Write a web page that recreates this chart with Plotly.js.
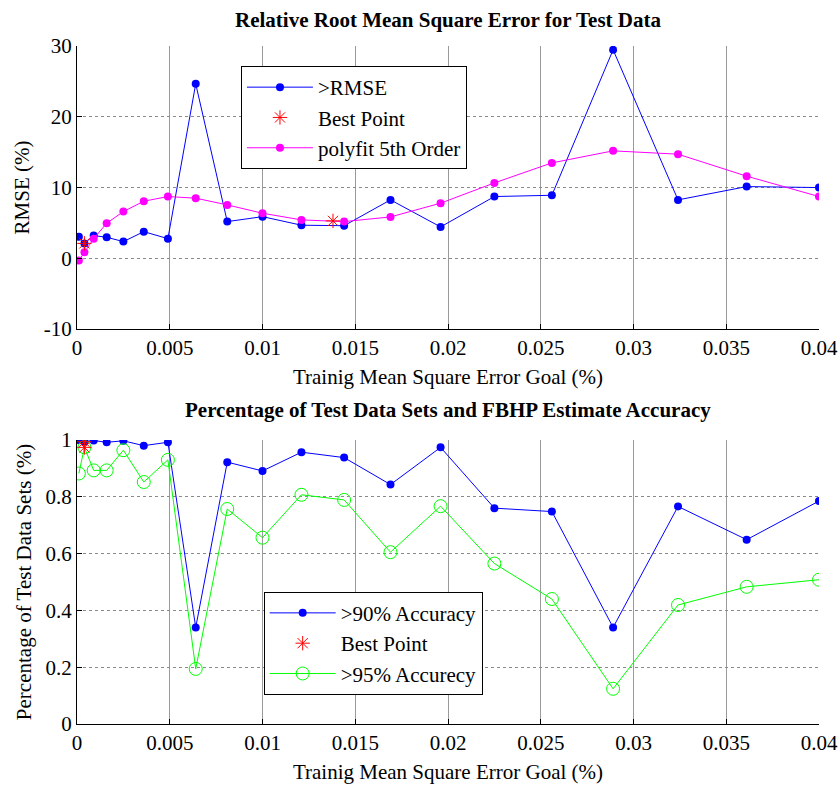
<!DOCTYPE html>
<html>
<head>
<meta charset="utf-8">
<script src="https://cdn.plot.ly/plotly-3.0.1.min.js"></script>
<style>html,body{margin:0;padding:0;background:#fff;}#chart{width:840px;height:790px;}</style>
</head>
<body>
<div id="chart"></div>
<script>
// Training MSE goal (%) values
const goal = [0.0001, 0.0004, 0.0009, 0.0016, 0.0025, 0.0036, 0.0049, 0.0064, 0.0081, 0.0100,
              0.0121, 0.0144, 0.0169, 0.0196, 0.0225, 0.0256, 0.0289, 0.0324, 0.0361, 0.0400];
// Top panel: RMSE (%)
const rmse = [3.05, 2.1, 3.2, 2.97, 2.35, 3.76, 2.77, 24.65, 5.18, 5.88,
              4.67, 4.6, 8.25, 4.43, 8.72, 8.9, 29.46, 8.25, 10.13, 9.99];
const polyfit5 = [-0.33, 0.85, 2.77, 4.95, 6.6, 8.06, 8.72, 8.49, 7.54, 6.36,
                  5.42, 5.18, 5.84, 7.78, 10.65, 13.48, 15.18, 14.71, 11.6, 8.72];
const bestTopX = [0.0004, 0.0138];
const bestTopY = [2.1, 5.28];
// Bottom panel: fraction of test data sets
const acc90 = [1.0, 0.994, 0.998, 0.992, 0.997, 0.98, 0.992, 0.34, 0.922, 0.891,
               0.957, 0.938, 0.843, 0.974, 0.76, 0.748, 0.34, 0.766, 0.649, 0.785];
const acc95 = [0.882, 0.974, 0.893, 0.893, 0.964, 0.852, 0.93, 0.194, 0.757, 0.656,
               0.807, 0.789, 0.605, 0.767, 0.565, 0.44, 0.124, 0.419, 0.483, 0.508];
const bestBotX = [0.0004, 0.0004];
const bestBotY = [0.994, 0.974];

const xTicks = [0, 0.005, 0.01, 0.015, 0.02, 0.025, 0.03, 0.035, 0.04];
const xTickText = ['0', '0.005', '0.01', '0.015', '0.02', '0.025', '0.03', '0.035', '0.04'];
const yTopTicks = [-10, 0, 10, 20, 30];
const yBotTicks = [0, 0.2, 0.4, 0.6, 0.8, 1];
const yBotTickText = ['0', '0.2', '0.4', '0.6', '0.8', '1'];

const FONT = 'Liberation Serif';
const FS = 21;

const traces = [
  {x: goal, y: rmse, type: 'scatter', mode: 'lines+markers', name: '>RMSE', legendrank: 1,
   line: {color: '#0000ff', width: 1}, marker: {color: '#0000ff', size: 8, symbol: 'circle'},
   xaxis: 'x', yaxis: 'y', legend: 'legend'},
  {x: goal, y: polyfit5, type: 'scatter', mode: 'lines+markers', name: 'polyfit 5th Order', legendrank: 3,
   line: {color: '#ff00ff', width: 1}, marker: {color: '#ff00ff', size: 8, symbol: 'circle'},
   xaxis: 'x', yaxis: 'y', legend: 'legend'},
  {x: bestTopX, y: bestTopY, type: 'scatter', mode: 'markers', name: 'Best Point', legendrank: 2,
   marker: {color: '#ff0000', size: 12, symbol: 'asterisk-open', line: {color: '#ff0000', width: 1}},
   xaxis: 'x', yaxis: 'y', legend: 'legend'},
  {x: goal, y: acc90, type: 'scatter', mode: 'lines+markers', name: '>90% Accuracy', legendrank: 1,
   line: {color: '#0000ff', width: 1}, marker: {color: '#0000ff', size: 8, symbol: 'circle'},
   xaxis: 'x2', yaxis: 'y2', legend: 'legend2'},
  {x: goal, y: acc95, type: 'scatter', mode: 'lines+markers', name: '>95% Accurecy', legendrank: 3,
   line: {color: '#00ff00', width: 1},
   marker: {color: '#00ff00', size: 13, symbol: 'circle-open', line: {color: '#00ff00', width: 1}},
   xaxis: 'x2', yaxis: 'y2', legend: 'legend2'},
  {x: bestBotX, y: bestBotY, type: 'scatter', mode: 'markers', name: 'Best Point', legendrank: 2,
   marker: {color: '#ff0000', size: 12, symbol: 'asterisk-open', line: {color: '#ff0000', width: 1}},
   xaxis: 'x2', yaxis: 'y2', legend: 'legend2'}
];

function xAxis(anchor, titleText) {
  return {
    domain: [0, 1], anchor: anchor, range: [0, 0.04], tickmode: 'array', tickvals: xTicks, ticktext: xTickText,
    ticks: 'inside', ticklen: 5, tickcolor: '#000', showline: true, linecolor: '#000', linewidth: 1,
    showgrid: true, gridcolor: '#9a9a9a', gridwidth: 1, zeroline: false, mirror: false,
    tickfont: {family: FONT, size: FS, color: '#000'},
    title: {text: titleText, font: {family: FONT, size: FS, color: '#000'}, standoff: 10}
  };
}
function yAxis(anchor, domain, range, tv, tt, titleText) {
  return {
    domain: domain, anchor: anchor, range: range, tickmode: 'array', tickvals: tv, ticktext: tt,
    ticks: 'inside', ticklen: 5, tickcolor: '#000', showline: true, linecolor: '#000', linewidth: 1,
    showgrid: true, gridcolor: '#8a8a8a', gridwidth: 1, griddash: 'dot', zeroline: false, mirror: false,
    tickfont: {family: FONT, size: FS, color: '#000'},
    title: {text: titleText, font: {family: FONT, size: FS, color: '#000'}, standoff: 8}
  };
}

const legendBase = {xanchor: 'left', yanchor: 'top', bgcolor: '#fff', bordercolor: '#000', borderwidth: 1,
                    itemwidth: 66, traceorder: 'normal', font: {family: FONT, size: FS, color: '#000'}};

const layout = {
  width: 840, height: 790,
  margin: {l: 77, r: 21, t: 46, b: 66},
  paper_bgcolor: '#fff', plot_bgcolor: '#fff',
  font: {family: FONT, size: FS, color: '#000'},
  showlegend: true,
  xaxis: xAxis('y', 'Trainig Mean Square Error Goal (%)'),
  yaxis: yAxis('x', [0.5826, 1], [-10, 30], yTopTicks, yTopTicks.map(String), 'RMSE (%)'),
  xaxis2: xAxis('y2', 'Trainig Mean Square Error Goal (%)'),
  yaxis2: yAxis('x2', [0, 0.4189], [0, 1], yBotTicks, yBotTickText, 'Percentage of Test Data Sets (%)'),
  legend: Object.assign({x: 0.221, y: 0.9705}, legendBase),
  legend2: Object.assign({x: 0.2516, y: 0.1951}, legendBase),
  annotations: [
    {text: '<b>Relative Root Mean Square Error for Test Data</b>', xref: 'paper', yref: 'paper',
     x: 0.5, y: 1.0383, xanchor: 'center', yanchor: 'middle', showarrow: false,
     font: {family: FONT, size: 21, color: '#000'}},
    {text: '<b>Percentage of Test Data Sets and FBHP Estimate Accuracy</b>', xref: 'paper', yref: 'paper',
     x: 0.5, y: 0.4631, xanchor: 'center', yanchor: 'middle', showarrow: false,
     font: {family: FONT, size: 21, color: '#000'}}
  ]
};

Plotly.newPlot('chart', traces, layout, {displayModeBar: false, staticPlot: true});
</script>
</body>
</html>
